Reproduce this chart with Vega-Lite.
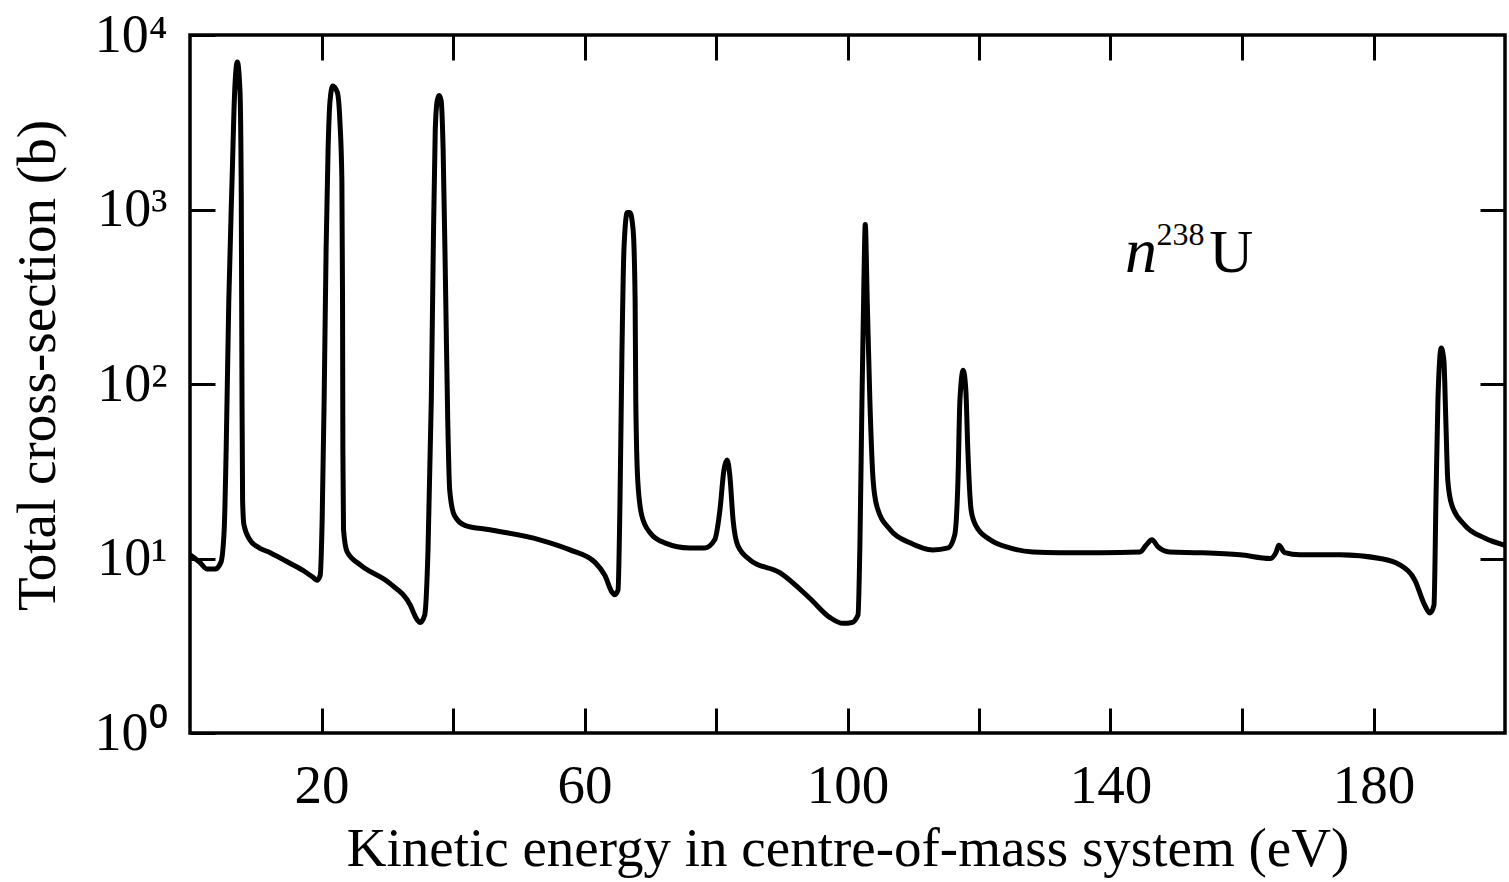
{
  "$schema": "https://vega.github.io/schema/vega-lite/v6.json",
  "width": 1315,
  "height": 698,
  "autosize": "none",
  "padding": {"left": 190, "top": 35, "right": 4, "bottom": 149},
  "background": "white",
  "config": {
    "view": {"stroke": "black", "strokeWidth": 3.5},
    "font": "Liberation Serif",
    "axis": {"grid": false, "domain": false, "tickColor": "black", "tickWidth": 3, "labelColor": "black", "titleColor": "black", "labelFont": "Liberation Serif", "titleFont": "Liberation Serif", "titleFontWeight": "normal"}
  },
  "data": {"values": [
    {"E": 0, "sigma": 10.5}, {"E": 1.5, "sigma": 9.5}, {"E": 2.6, "sigma": 8.7}, {"E": 3.8, "sigma": 8.7}, {"E": 4.7, "sigma": 9.5},
    {"E": 5.2, "sigma": 14.6}, {"E": 5.5, "sigma": 42}, {"E": 5.9, "sigma": 300}, {"E": 6.4, "sigma": 1480}, {"E": 6.8, "sigma": 4800},
    {"E": 7.2, "sigma": 7000}, {"E": 7.6, "sigma": 4800}, {"E": 7.8, "sigma": 1150}, {"E": 7.9, "sigma": 105}, {"E": 8.0, "sigma": 21.6},
    {"E": 8.2, "sigma": 15.6}, {"E": 9.1, "sigma": 12.8}, {"E": 10.2, "sigma": 11.7}, {"E": 12.2, "sigma": 10.8}, {"E": 15.2, "sigma": 9.4},
    {"E": 17.5, "sigma": 8.4}, {"E": 18.7, "sigma": 7.8}, {"E": 19.3, "sigma": 7.5}, {"E": 19.8, "sigma": 8.0}, {"E": 20.1, "sigma": 16.6},
    {"E": 20.4, "sigma": 81}, {"E": 20.7, "sigma": 590}, {"E": 21.0, "sigma": 2200}, {"E": 21.3, "sigma": 4200}, {"E": 21.7, "sigma": 5100},
    {"E": 22.4, "sigma": 4700}, {"E": 22.8, "sigma": 3200}, {"E": 23.1, "sigma": 1470}, {"E": 23.2, "sigma": 300}, {"E": 23.25, "sigma": 42},
    {"E": 23.35, "sigma": 14.6}, {"E": 23.9, "sigma": 10.9}, {"E": 25.9, "sigma": 9.2}, {"E": 30.4, "sigma": 7.2}, {"E": 33.5, "sigma": 5.4},
    {"E": 34.4, "sigma": 4.55}, {"E": 35.0, "sigma": 4.3}, {"E": 35.7, "sigma": 4.75}, {"E": 36.2, "sigma": 11.2}, {"E": 36.7, "sigma": 81},
    {"E": 37.0, "sigma": 590}, {"E": 37.3, "sigma": 2850}, {"E": 37.6, "sigma": 4200}, {"E": 37.9, "sigma": 4500}, {"E": 38.2, "sigma": 4200},
    {"E": 38.5, "sigma": 2200}, {"E": 38.9, "sigma": 300}, {"E": 39.2, "sigma": 62}, {"E": 39.5, "sigma": 24.6}, {"E": 40.2, "sigma": 17.7},
    {"E": 41.8, "sigma": 15.5}, {"E": 45.6, "sigma": 14.6}, {"E": 53.2, "sigma": 12.8}, {"E": 57.8, "sigma": 11.2}, {"E": 61.6, "sigma": 9.5},
    {"E": 63.1, "sigma": 8.0}, {"E": 64.2, "sigma": 6.4}, {"E": 64.6, "sigma": 6.2}, {"E": 65.1, "sigma": 6.6}, {"E": 65.4, "sigma": 21.6},
    {"E": 65.7, "sigma": 156}, {"E": 66.0, "sigma": 590}, {"E": 66.5, "sigma": 960}, {"E": 66.9, "sigma": 960}, {"E": 67.4, "sigma": 760},
    {"E": 67.7, "sigma": 300}, {"E": 67.8, "sigma": 81}, {"E": 68.1, "sigma": 28}, {"E": 68.7, "sigma": 17.7}, {"E": 70.0, "sigma": 14},
    {"E": 72.2, "sigma": 12.3}, {"E": 76.0, "sigma": 11.5}, {"E": 78.3, "sigma": 11.5}, {"E": 79.8, "sigma": 12.8}, {"E": 80.6, "sigma": 19},
    {"E": 81.2, "sigma": 32}, {"E": 81.7, "sigma": 36.7}, {"E": 82.1, "sigma": 30}, {"E": 82.6, "sigma": 16.6}, {"E": 83.3, "sigma": 11.9},
    {"E": 85.2, "sigma": 9.8}, {"E": 89.7, "sigma": 8.3}, {"E": 94.3, "sigma": 5.9}, {"E": 97.3, "sigma": 4.6}, {"E": 99.3, "sigma": 4.25},
    {"E": 100.7, "sigma": 4.3}, {"E": 101.6, "sigma": 4.75}, {"E": 101.9, "sigma": 12.8}, {"E": 102.2, "sigma": 81}, {"E": 102.5, "sigma": 393},
    {"E": 102.7, "sigma": 820}, {"E": 103.0, "sigma": 303}, {"E": 103.4, "sigma": 81}, {"E": 103.9, "sigma": 28}, {"E": 104.5, "sigma": 19.7},
    {"E": 106.5, "sigma": 14.6}, {"E": 109.5, "sigma": 12.3}, {"E": 113.0, "sigma": 11.2}, {"E": 115.3, "sigma": 11.5}, {"E": 116.3, "sigma": 13.6},
    {"E": 116.8, "sigma": 28}, {"E": 117.1, "sigma": 81}, {"E": 117.6, "sigma": 120}, {"E": 118.0, "sigma": 92}, {"E": 118.3, "sigma": 42},
    {"E": 118.8, "sigma": 19}, {"E": 119.5, "sigma": 15.5}, {"E": 121.7, "sigma": 12.8}, {"E": 124.7, "sigma": 11.5}, {"E": 128.2, "sigma": 10.9},
    {"E": 132.3, "sigma": 10.8}, {"E": 138.4, "sigma": 10.8}, {"E": 144.5, "sigma": 10.9}, {"E": 145.4, "sigma": 11.9}, {"E": 146.3, "sigma": 12.8},
    {"E": 147.2, "sigma": 11.7}, {"E": 149.0, "sigma": 10.9}, {"E": 153.6, "sigma": 10.8}, {"E": 159.7, "sigma": 10.5}, {"E": 164.3, "sigma": 10.0},
    {"E": 165.2, "sigma": 10.9}, {"E": 165.6, "sigma": 11.9}, {"E": 166.5, "sigma": 10.8}, {"E": 168.8, "sigma": 10.5}, {"E": 174.9, "sigma": 10.5},
    {"E": 181.0, "sigma": 10.0}, {"E": 184.0, "sigma": 9.2}, {"E": 186.3, "sigma": 7.5}, {"E": 187.8, "sigma": 5.4}, {"E": 188.6, "sigma": 4.87},
    {"E": 189.2, "sigma": 5.4}, {"E": 189.5, "sigma": 21.6}, {"E": 189.8, "sigma": 81}, {"E": 190.3, "sigma": 161}, {"E": 190.7, "sigma": 137},
    {"E": 191.0, "sigma": 62}, {"E": 191.3, "sigma": 28}, {"E": 191.9, "sigma": 20.3}, {"E": 193.9, "sigma": 15.5}, {"E": 196.9, "sigma": 13.1},
    {"E": 200, "sigma": 11.9}
  ]},
  "layer": [
    {
      "mark": {"type": "line", "color": "black", "strokeWidth": 5, "interpolate": "monotone", "clip": true},
      "encoding": {
        "x": {"field": "E", "type": "quantitative", "scale": {"domain": [0, 200], "nice": false, "zero": false},
          "axis": {"orient": "bottom", "values": [20, 40, 60, 80, 100, 120, 140, 160, 180], "labelExpr": "(datum.value - 20) % 40 == 0 ? datum.label : ''",
            "tickSize": -25, "labelFontSize": 55, "labelPadding": 51, "labelFlush": false,
            "title": "Kinetic energy in centre-of-mass system (eV)", "titleFontSize": 55, "titlePadding": 9}},
        "y": {"field": "sigma", "type": "quantitative", "scale": {"type": "log", "domain": [1, 10000], "nice": false},
          "axis": {"orient": "left", "values": [1, 10, 100, 1000, 10000],
            "labelExpr": "datum.value == 1 ? '10⁰' : datum.value == 10 ? '10¹' : datum.value == 100 ? '10²' : datum.value == 1000 ? '10³' : '10⁴'",
            "tickSize": -25, "labelFontSize": 54, "labelPadding": 48, "labelFlush": false,
            "title": "Total cross-section (b)", "titleFontSize": 55, "titlePadding": 28, "titleY": 330}}
      }
    },
    {
      "mark": {"type": "line", "strokeOpacity": 0},
      "encoding": {
        "x": {"field": "E", "type": "quantitative", "axis": {"orient": "top", "values": [20, 40, 60, 80, 100, 120, 140, 160, 180], "labels": false, "tickSize": -25, "title": null}},
        "y": {"field": "sigma", "type": "quantitative", "axis": {"orient": "right", "values": [10, 100, 1000], "labels": false, "tickSize": -25, "title": null}}
      }
    },
    {
      "data": {"values": [{"label": "n"}]},
      "mark": {"type": "text", "font": "Liberation Serif", "fontStyle": "italic", "fontSize": 64, "align": "left", "baseline": "alphabetic", "color": "black"},
      "encoding": {
        "text": {"field": "label"},
        "x": {"datum": 142.2, "type": "quantitative", "axis": null},
        "y": {"datum": 438, "type": "quantitative", "axis": null}
      }
    },
    {
      "data": {"values": [{"label": "238"}]},
      "mark": {"type": "text", "font": "Liberation Serif", "fontSize": 32, "align": "left", "baseline": "alphabetic", "color": "black"},
      "encoding": {
        "text": {"field": "label"},
        "x": {"datum": 147.0, "type": "quantitative", "axis": null},
        "y": {"datum": 626, "type": "quantitative", "axis": null}
      }
    },
    {
      "data": {"values": [{"label": "U"}]},
      "mark": {"type": "text", "font": "Liberation Serif", "fontSize": 61, "align": "left", "baseline": "alphabetic", "color": "black"},
      "encoding": {
        "text": {"field": "label"},
        "x": {"datum": 155.0, "type": "quantitative", "axis": null},
        "y": {"datum": 438, "type": "quantitative", "axis": null}
      }
    }
  ],
  "resolve": {"axis": {"x": "independent", "y": "independent"}}
}
